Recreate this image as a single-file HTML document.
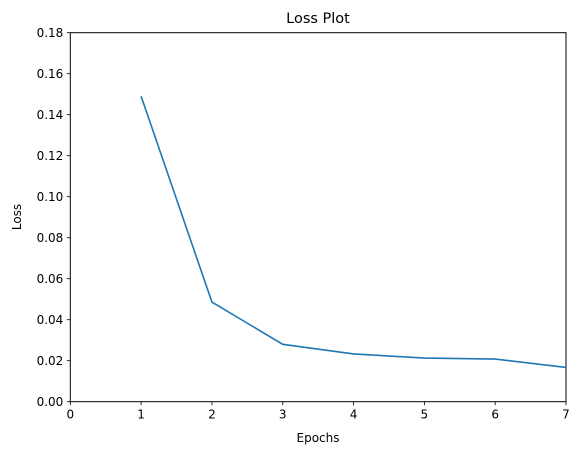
<!DOCTYPE html>
<html><head><meta charset="utf-8"><style>
html,body{margin:0;padding:0;background:#fff;}
svg text{font-family:"DejaVu Sans","Liberation Sans",sans-serif;fill:#000;}
</style></head><body>
<svg id="chart" width="580" height="455" xmlns="http://www.w3.org/2000/svg">
<text x="318" y="23" font-size="14.5" text-anchor="middle">Loss Plot</text>
<g id="axes"></g>
<text x="318" y="442" font-size="12" text-anchor="middle">Epochs</text>
<text transform="translate(21,217) rotate(-90)" font-size="12" text-anchor="middle">Loss</text>
</svg>
<script>
const epochs = [1, 2, 3, 4, 5, 6, 7];
const lossValues = [0.149, 0.0486, 0.028, 0.0233, 0.0213, 0.0208, 0.0167];
const xTicks = [0, 1, 2, 3, 4, 5, 6, 7];
const yTicks = [0, 0.02, 0.04, 0.06, 0.08, 0.10, 0.12, 0.14, 0.16, 0.18];
const L = 70.3, R = 566, T = 32.7, B = 401.7;
const xs = v => L + (v - 0) / 7 * (R - L);
const ys = v => B - v / 0.18 * (B - T);
const NS = "http://www.w3.org/2000/svg";
const g = document.getElementById('axes');
function mk(tag, attrs){const e=document.createElementNS(NS,tag);for(const k in attrs)e.setAttribute(k,attrs[k]);g.appendChild(e);return e;}
const frame = mk('rect',{x:L,y:T,width:R-L,height:B-T,fill:'none',stroke:'#000','stroke-width':1});


xTicks.forEach(t=>{
  const ln = mk('line',{x1:xs(t),x2:xs(t),y1:B,y2:B+3.5,stroke:'#000','stroke-width':0.8});
  
  
  const tx = mk('text',{x:xs(t),y:B+17,'font-size':12,'text-anchor':'middle'});
  tx.textContent = t;
  
  
});
yTicks.forEach(t=>{
  const ln = mk('line',{x1:L-3.5,x2:L,y1:ys(t),y2:ys(t),stroke:'#000','stroke-width':0.8});
  
  
  const tx = mk('text',{x:L-7,y:ys(t)+4.5,'font-size':12,'text-anchor':'end'});
  tx.textContent = t.toFixed(2);
  
  
});
const pts = epochs.map((e,i)=>xs(e)+','+ys(lossValues[i])).join(' ');
const line = mk('polyline',{points:pts,fill:'none',stroke:'#1f77b4','stroke-width':1.6});


</script>
</body></html>
